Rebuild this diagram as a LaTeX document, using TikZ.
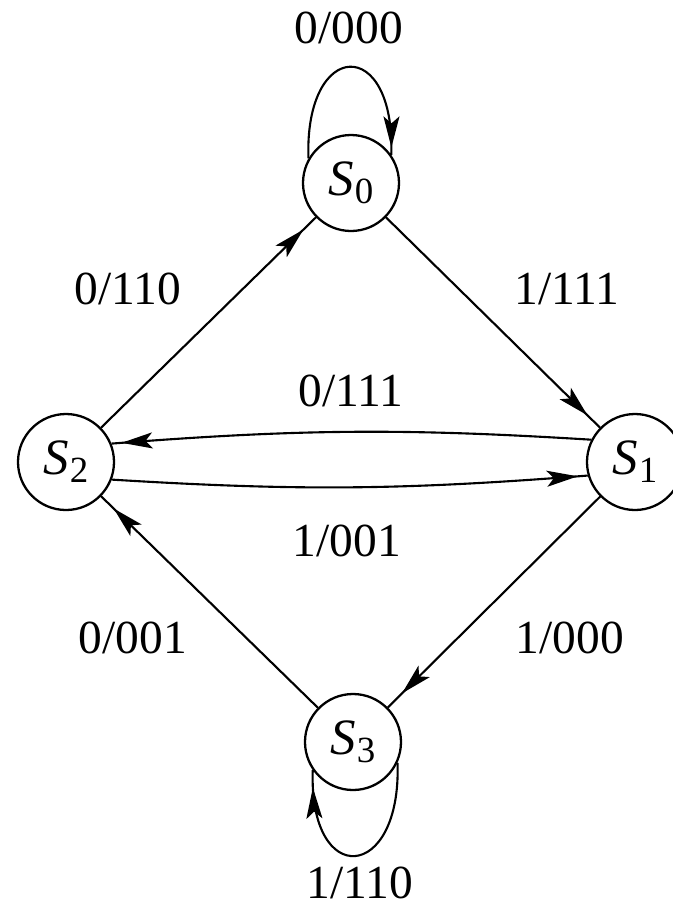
\documentclass[tikz,border=0pt]{standalone}
\usepackage{fontspec}
\setmainfont{Liberation Serif}
\usetikzlibrary{arrows.meta, decorations.markings}

\newcommand{\stname}[1]{\textit{S}\kern0.5pt\raisebox{-0.35ex}{\fontsize{21}{24}\selectfont #1}}

\begin{document}
\begin{tikzpicture}[
    state/.style={circle, draw, line width=1.3pt, minimum size=1.92cm, inner sep=0pt, font=\fontsize{29}{32}\selectfont},
    lbl/.style={font=\fontsize{27}{30}\selectfont, inner sep=0pt},
    link/.style={line width=1.2pt},
    flow/.style={link, postaction={decorate, decoration={markings, mark=at position #1 with {\arrow{Stealth[length=0.62cm, width=0.32cm, inset=0.14cm]}}}}}
]
    \useasboundingbox (0,0) rectangle (13.46,-18.26);

    \node[state] (s0) at (7.02,-3.66) {\stname{0}};
    \node[state] (s1) at (12.70,-9.24) {\stname{1}};
    \node[state] (s2) at (1.32,-9.24) {\stname{2}};
    \node[state] (s3) at (7.06,-14.84) {\stname{3}};

    \draw[flow=-0.15cm] (s0.150) to[out=92, in=88, looseness=3.7] (s0.35);
    \draw[flow=-0.35cm] (s0) -- (s1);
    \draw[flow=-0.2cm] (s1.153) to[bend right=4] (s2.22);
    \draw[flow=-0.2cm] (s2.-21) to[bend right=4] (s1.-164);
    \draw[flow=-0.35cm] (s2) -- (s0);
    \draw[flow=-0.4cm] (s1) -- (s3);
    \draw[flow=-0.35cm] (s3) -- (s2);
    \draw[flow=-0.35cm] (s3.-25) to[out=-88, in=-92, looseness=3.6] (s3.-145);

    \node[lbl] (l00) at (6.98,-0.56) {0/000};
    \node[lbl] (l20) at (2.56,-5.78) {0/110};
    \node[lbl] (l01) at (11.34,-5.78) {1/111};
    \node[lbl] (l12) at (7.02,-7.82) {0/111};
    \node[lbl] (l21) at (6.94,-10.82) {1/001};
    \node[lbl] (l32) at (2.66,-12.76) {0/001};
    \node[lbl] (l13) at (11.40,-12.76) {1/000};
    \node[lbl] (l33) at (7.20,-17.66) {1/110};
\end{tikzpicture}
\end{document}
